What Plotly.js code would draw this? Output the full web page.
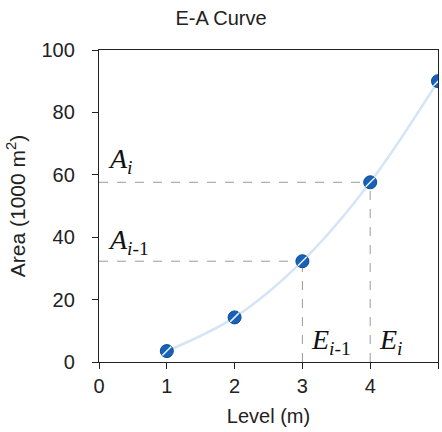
<!DOCTYPE html>
<html>
<head>
<script src="https://cdn.plot.ly/plotly-3.0.1.min.js"></script>
<style>html,body{margin:0;padding:0;background:#fff;}</style>
</head>
<body>
<div id="chart" style="width:442px;height:432px;"></div>
<script>
var levels = [1, 2, 3, 4, 5];
var areas = [3.5, 14.3, 32.3, 57.6, 90];
var idxI = 3;      // E_i / A_i point
var idxPrev = 2;   // E_{i-1} / A_{i-1} point
var xTicks = [0, 1, 2, 3, 4, 5];
var yTicks = [0, 20, 40, 60, 80, 100];

var dash = {color: '#9a9a9a', width: 1, dash: 'dash'};
var shapes = [];
[idxI, idxPrev].forEach(function (k) {
  shapes.push({type: 'line', xref: 'x', yref: 'y', x0: 0, x1: levels[k], y0: areas[k], y1: areas[k], line: dash, layer: 'below'});
  shapes.push({type: 'line', xref: 'x', yref: 'y', x0: levels[k], x1: levels[k], y0: 0, y1: areas[k], line: dash, layer: 'below'});
});

var serif = {family: 'Liberation Serif, Times New Roman, serif', size: 28, color: '#111'};
var annotations = [
  {x: 0.1, y: 64.5, xref: 'x', yref: 'y', text: '<i>A</i><sub><i>i</i></sub>', showarrow: false, xanchor: 'left', font: serif},
  {x: 0.1, y: 38.5, xref: 'x', yref: 'y', text: '<i>A</i><sub><i>i</i>-1</sub>', showarrow: false, xanchor: 'left', font: serif},
  {x: 3.1, y: 6.5, xref: 'x', yref: 'y', text: '<i>E</i><sub><i>i</i>-1</sub>', showarrow: false, xanchor: 'left', font: serif},
  {x: 4.1, y: 6.5, xref: 'x', yref: 'y', text: '<i>E</i><sub><i>i</i></sub>', showarrow: false, xanchor: 'left', font: serif}
];

var curve = {
  x: levels, y: areas, mode: 'lines', type: 'scatter',
  line: {shape: 'spline', color: '#d3e5f7', width: 2.5},
  hoverinfo: 'skip', showlegend: false
};
var pts = {
  x: levels, y: areas, mode: 'markers', type: 'scatter',
  marker: {size: 13, color: '#1762b8', line: {color: '#0d4a91', width: 1}},
  cliponaxis: true, showlegend: false
};
var shine = {
  x: levels, y: areas, mode: 'markers', type: 'scatter',
  marker: {size: 9, symbol: 'line-ne', color: '#ffffff', line: {color: '#eaf2fb', width: 1.5}},
  cliponaxis: true, showlegend: false
};

var sans = 'Liberation Sans, Arial, sans-serif';
var layout = {
  width: 442, height: 432,
  margin: {l: 99, r: 4, t: 50, b: 70},
  paper_bgcolor: '#fff', plot_bgcolor: '#fff',
  title: {text: 'E-A Curve', x: 0.5, xanchor: 'center', y: 0.958, yanchor: 'middle',
          font: {family: sans, size: 20, color: '#222'}},
  xaxis: {
    range: [0, 5], tickvals: xTicks, ticktext: xTicks.map(String),
    showgrid: false, zeroline: false, showline: true, linecolor: '#222', linewidth: 1.2,
    mirror: true, ticks: 'outside', ticklen: 6, tickcolor: '#222', tickfont: {family: sans, size: 20, color: '#222'},
    ticklabelstandoff: 0,
    title: {text: 'Level (m)', font: {family: sans, size: 20, color: '#222'}, standoff: 12}
  },
  yaxis: {
    range: [0, 100], tickvals: yTicks, ticktext: yTicks.map(String),
    showgrid: false, zeroline: false, showline: true, linecolor: '#222', linewidth: 1.2,
    mirror: true, ticks: 'outside', ticklen: 6, tickcolor: '#222', tickfont: {family: sans, size: 20, color: '#222'},
    ticklabelstandoff: 13,
    title: {text: 'Area (1000 m<sup>2</sup>)', font: {family: sans, size: 21, color: '#222'}, standoff: 10}
  },
  shapes: shapes,
  annotations: annotations
};

Plotly.newPlot('chart', [curve, pts, shine], layout, {displayModeBar: false, staticPlot: true});
</script>
</body>
</html>
